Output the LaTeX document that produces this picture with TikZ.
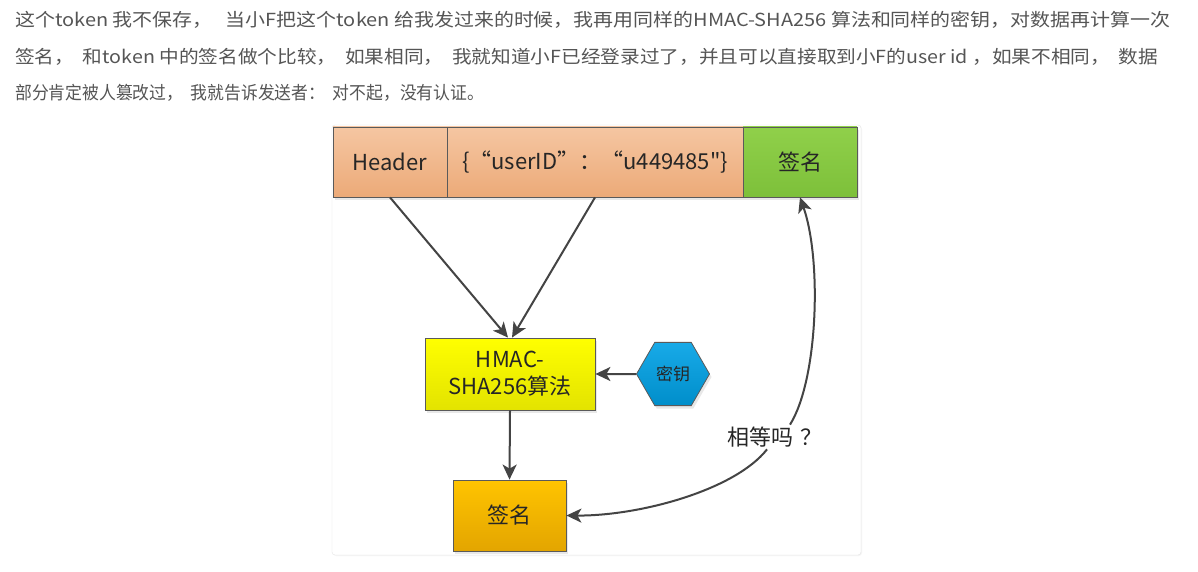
\documentclass[tikz,border=0pt]{standalone}
\usepackage{fontspec}
\setmainfont{Noto Sans CJK SC}
\newfontfamily\cjkf{Noto Sans CJK SC}
\usetikzlibrary{arrows.meta,shapes.geometric,shadows}
\definecolor{txt}{HTML}{555555}
\definecolor{bord}{HTML}{5A5A5A}
\definecolor{arrc}{HTML}{444444}
\tikzset{
  para/.style={anchor=west,inner sep=0pt,text=txt,font=\cjkf\fontsize{18}{22}\selectfont},
  box/.style={draw=bord,line width=0.8pt,minimum height=70pt,inner sep=0pt,font=\cjkf\fontsize{22}{26}\selectfont,text=black!85,
    drop shadow={opacity=0.18,shadow xshift=2pt,shadow yshift=-3pt}},
  orangebox/.style={box,top color=orange1,bottom color=orange2},
  greenbox/.style={box,top color=green1,bottom color=green2},
  yellowbox/.style={box,top color=yellow1,bottom color=yellow2,align=center},
  goldbox/.style={box,top color=gold1,bottom color=gold2},
  keyshape/.style={regular polygon,regular polygon sides=6,minimum size=73pt,inner sep=0pt,draw=bord,line width=0.8pt,
    top color=blue1,bottom color=blue2,font=\cjkf\fontsize{17}{21}\selectfont,text=black!85,
    drop shadow={opacity=0.18,shadow xshift=2pt,shadow yshift=-3pt}},
  arr/.style={draw=arrc,line width=2pt,-{Stealth[length=15pt,width=14pt,inset=4pt]}},
}
\definecolor{orange1}{HTML}{F5C6A2}
\definecolor{orange2}{HTML}{ECAA78}
\definecolor{green1}{HTML}{90D04A}
\definecolor{green2}{HTML}{7DC03A}
\definecolor{yellow1}{HTML}{FFFF00}
\definecolor{yellow2}{HTML}{E3E300}
\definecolor{blue1}{HTML}{18AAE8}
\definecolor{blue2}{HTML}{008ECA}
\definecolor{gold1}{HTML}{FFC400}
\definecolor{gold2}{HTML}{E3A500}
\begin{document}
\begin{tikzpicture}[x=1pt,y=-1pt]
\useasboundingbox[fill=white] (0,0) rectangle (1198,572);
% paragraph
\node[para] (l1) at (15,20) {\resizebox{1155pt}{\height}{这个token 我不保存，\ \ \ 当小F把这个token 给我发过来的时候，我再用同样的HMAC-SHA256 算法和同样的密钥，对数据再计算一次}};
\node[para] (l2) at (15,57) {\resizebox{1143pt}{\height}{签名，\ \ 和token 中的签名做个比较，\ \ 如果相同，\ \ 我就知道小F已经登录过了，并且可以直接取到小F的user id ，如果不相同，\ \ 数据}};
\node[para] (l3) at (15,93) {\resizebox{469pt}{\height}{部分肯定被人篡改过，\ \ 我就告诉发送者：\ \ 对不起，没有认证。}};
% card
\node[draw=black!10,fill=white,rounded corners=3pt,minimum width=529pt,minimum height=430pt,inner sep=0pt,
  drop shadow={opacity=0.08,shadow xshift=1pt,shadow yshift=-1pt}] (card) at (596.5,340) {};
% top bar
\node[orangebox,minimum width=114pt] (header) at (390,162) {Header};
\node[orangebox,minimum width=296pt] (data) at (595,162) {\{“userID”：“u449485"\}};
\node[greenbox,minimum width=114pt] (sig1) at (800,162) {签名};
% middle
\node[yellowbox,minimum width=170pt,minimum height=72pt,font=\cjkf\fontsize{22}{27}\selectfont] (hmac) at (510,374) {HMAC-\\SHA256算法};
\node[keyshape] (key) at (673,374) {密钥};
\node[goldbox,minimum width=113pt,minimum height=71pt] (sig2) at (509.5,515.5) {签名};
\node[inner sep=2pt,font=\cjkf\fontsize{22}{26}\selectfont,text=black!85] (q) at (775,437) {相等吗\hspace{8pt}？};
% connectors
\draw[arr] (header.south) -- ([xshift=-2pt]hmac.north);
\draw[arr] (data.south) -- ([xshift=2pt]hmac.north);
\draw[arr] (key.west) -- (hmac.east);
\draw[arr] (hmac.south) -- (sig2.north);
\draw[arr] ([xshift=15pt]q.north) .. controls (818,380) and (822,260) .. (sig1.south);
\draw[arr] ([xshift=-8pt]q.south) .. controls (735,490) and (640,516) .. (sig2.east);
\end{tikzpicture}
\end{document}
